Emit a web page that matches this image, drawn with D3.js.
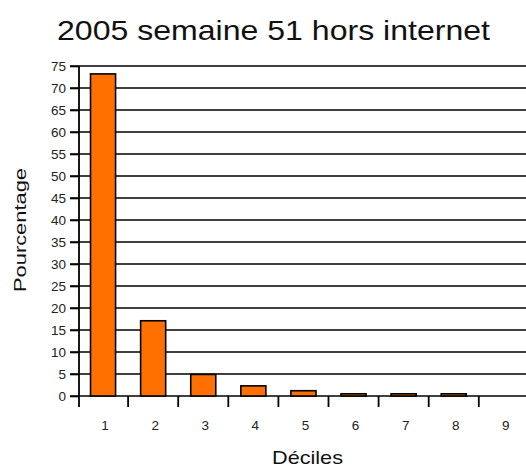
<!DOCTYPE html>
<html>
<head>
<meta charset="utf-8">
<script src="https://cdn.jsdelivr.net/npm/d3@7"></script>
<style>
  html, body { margin: 0; padding: 0; background: #fff; }
  svg { display: block; font-family: "Liberation Sans", Arial, sans-serif; }
</style>
</head>
<body>
<svg id="chart" width="526" height="467"></svg>
<script>
// Share of households per decile (%)
const deciles = ["1", "2", "3", "4", "5", "6", "7", "8", "9"];
const pourcentages = [73.2, 17.1, 4.9, 2.3, 1.2, 0.5, 0.5, 0.5, 0];
const yTicks = [0, 5, 10, 15, 20, 25, 30, 35, 40, 45, 50, 55, 60, 65, 70, 75];

const title = "2005 semaine 51 hors internet";
const yTitle = "Pourcentage";
const xTitle = "Déciles";

const svg = d3.select("#chart");
const W = 526;

const plot = { left: 79, top: 66, bottom: 396, step: 50.1 };

const y = d3.scaleLinear().domain([0, 75]).range([plot.bottom, plot.top]);
const x = d3.scaleBand()
  .domain(deciles)
  .range([plot.left - 1, plot.left - 1 + plot.step * deciles.length])
  .paddingInner(0.5)
  .paddingOuter(0.25);

// horizontal gridlines (including the baseline)
svg.append("g")
  .selectAll("line")
  .data(yTicks)
  .join("line")
  .attr("x1", plot.left - 9)
  .attr("x2", W)
  .attr("y1", d => y(d))
  .attr("y2", d => y(d))
  .attr("stroke", "#000")
  .attr("stroke-width", 1.6);

// y axis labels and ticks
const yAxis = svg.append("g")
  .attr("transform", `translate(${plot.left},0)`)
  .call(d3.axisLeft(y).tickValues(yTicks).tickSize(9).tickPadding(4));
yAxis.select(".domain").remove();
yAxis.selectAll(".tick line").attr("stroke-width", 1.6);
yAxis.selectAll(".tick text")
  .attr("font-size", 13.5)
  .attr("font-family", "Liberation Sans, Arial, sans-serif")
  .attr("fill", "#222");

// vertical axis line, running down past the baseline
svg.append("line")
  .attr("x1", plot.left).attr("x2", plot.left)
  .attr("y1", plot.top).attr("y2", plot.bottom + 11)
  .attr("stroke", "#000").attr("stroke-width", 1.8);

// bars
svg.append("g")
  .selectAll("rect")
  .data(deciles.map((d, i) => ({ d, v: pourcentages[i] })).filter(o => o.v > 0))
  .join("rect")
  .attr("x", o => x(o.d))
  .attr("width", x.bandwidth())
  .attr("y", o => y(o.v))
  .attr("height", o => y(0) - y(o.v))
  .attr("fill", "#ff7000")
  .attr("stroke", "#000")
  .attr("stroke-width", 1.6);

// category boundary ticks below the baseline
const boundaries = deciles.map(d => x(d) - x.step() * 0.25);
svg.append("g")
  .selectAll("line")
  .data(boundaries.slice(1))
  .join("line")
  .attr("x1", b => b).attr("x2", b => b)
  .attr("y1", plot.bottom).attr("y2", plot.bottom + 11)
  .attr("stroke", "#000").attr("stroke-width", 1.8);

// x labels
svg.append("g")
  .selectAll("text")
  .data(deciles)
  .join("text")
  .attr("x", d => x(d) + x.bandwidth() / 2 + 2)
  .attr("y", 430)
  .attr("text-anchor", "middle")
  .attr("font-size", 13.5)
  .attr("fill", "#222")
  .text(d => d);

// titles
svg.append("text")
  .attr("x", 273.5).attr("y", 40)
  .attr("text-anchor", "middle")
  .attr("font-size", 28)
  .attr("textLength", 433)
  .attr("lengthAdjust", "spacingAndGlyphs")
  .attr("fill", "#111")
  .text(title);

svg.append("text")
  .attr("x", 307.5).attr("y", 464)
  .attr("text-anchor", "middle")
  .attr("font-size", 19)
  .attr("textLength", 71)
  .attr("lengthAdjust", "spacingAndGlyphs")
  .attr("fill", "#111")
  .text(xTitle);

svg.append("text")
  .attr("transform", "translate(26,230) rotate(-90)")
  .attr("text-anchor", "middle")
  .attr("font-size", 17)
  .attr("textLength", 124)
  .attr("lengthAdjust", "spacingAndGlyphs")
  .attr("fill", "#111")
  .text(yTitle);
</script>
</body>
</html>
